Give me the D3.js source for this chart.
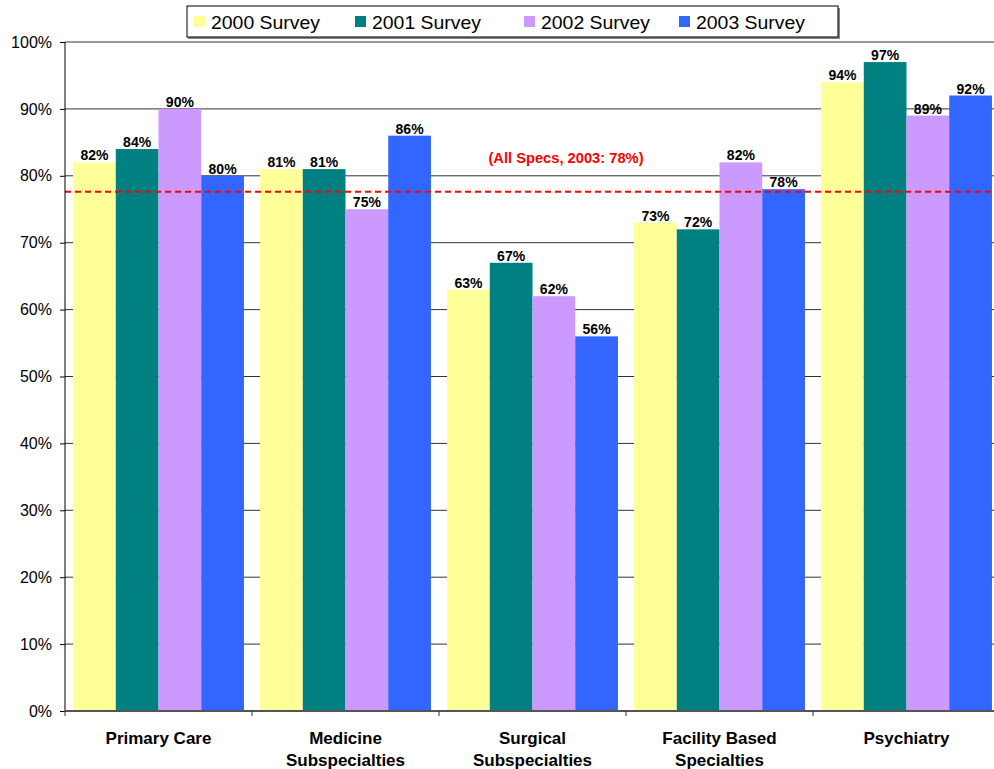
<!DOCTYPE html>
<html lang="en">
<head>
<meta charset="utf-8">
<title>survey chart</title>
<script src="https://cdn.jsdelivr.net/npm/d3@7"></script>
<style>
  body { margin: 0; background: #fff; }
  svg { font-family: "Liberation Sans", Arial, sans-serif; display: block; }
</style>
</head>
<body>
<script>
var categories = [["Primary Care"], ["Medicine", "Subspecialties"], ["Surgical", "Subspecialties"], ["Facility Based", "Specialties"], ["Psychiatry"]];
var series = ["2000 Survey", "2001 Survey", "2002 Survey", "2003 Survey"];
var colors = ["#FFFF99", "#008080", "#CC99FF", "#3366FF"];
var values2000 = [82, 81, 63, 73, 94];
var values2001 = [84, 81, 67, 72, 97];
var values2002 = [90, 75, 62, 82, 89];
var values2003 = [80, 86, 56, 78, 92];
var yTicks = [0, 10, 20, 30, 40, 50, 60, 70, 80, 90, 100];
var allSpecs = 77.6;
var allSpecsLabel = "(All Specs, 2003: 78%)";

var w = 994, h = 769;
var margin = {top: 42, left: 65, right: -6, bottom: 58};
var svg = d3.select("body").append("svg").attr("width", w).attr("height", h);

var plotW = w - margin.left - margin.right;
var plotH = h - margin.top - margin.bottom;
var g = svg.append("g").attr("transform", "translate(" + margin.left + "," + margin.top + ")");

var yscale = d3.scaleLinear().domain([0, 100]).range([plotH, 0]);
var xscale = d3.scaleBand().domain(d3.range(categories.length)).range([0, plotW]).paddingInner(0.086).paddingOuter(0.043);
var xsub = d3.scaleBand().domain(d3.range(series.length)).range([0, xscale.bandwidth()]);

var data = [values2000, values2001, values2002, values2003];

// gridlines
g.selectAll("line.grid").data(yTicks.slice(1)).enter().append("line")
  .attr("x1", 0).attr("x2", plotW)
  .attr("y1", function(d) { return yscale(d); }).attr("y2", function(d) { return yscale(d); })
  .attr("stroke", "#333").attr("stroke-width", 1);

// bars
series.forEach(function(s, si) {
  g.selectAll("rect.s" + si).data(data[si]).enter().append("rect")
    .attr("x", function(d, i) { return xscale(i) + xsub(si); })
    .attr("y", function(d) { return yscale(d); })
    .attr("width", xsub.bandwidth())
    .attr("height", function(d) { return plotH - yscale(d); })
    .attr("fill", colors[si]);
  g.selectAll("text.l" + si).data(data[si]).enter().append("text")
    .attr("x", function(d, i) { return xscale(i) + xsub(si) + xsub.bandwidth() / 2; })
    .attr("y", function(d) { return yscale(d) - 2; })
    .attr("text-anchor", "middle")
    .attr("font-size", "14px").attr("font-weight", "bold").attr("fill", "#000")
    .text(function(d) { return d + "%"; });
});

// reference line
g.append("line")
  .attr("x1", 0).attr("x2", plotW)
  .attr("y1", yscale(allSpecs)).attr("y2", yscale(allSpecs))
  .attr("stroke", "#FF0000").attr("stroke-width", 2).attr("stroke-dasharray", "6,4");
g.append("text")
  .attr("x", 501).attr("y", yscale(allSpecs) - 29)
  .attr("text-anchor", "middle").attr("font-size", "14.7px").attr("font-weight", "bold").attr("fill", "#FF0000")
  .text(allSpecsLabel);

// y axis
var yaxis = d3.axisLeft(yscale).tickValues(yTicks).tickSize(5).tickFormat(function(d) { return d + "%"; });
var ya = g.append("g").call(yaxis);
ya.select(".domain").attr("stroke", "#000").attr("d", "M0," + plotH + "V0");
ya.selectAll(".tick line").attr("stroke", "#000");
ya.selectAll(".tick text").attr("font-size", "16px").attr("fill", "#000").attr("x", -13).attr("font-family", "Liberation Sans, Arial, sans-serif");

// x axis
g.append("line").attr("x1", 0).attr("x2", plotW).attr("y1", plotH).attr("y2", plotH).attr("stroke", "#555").attr("stroke-width", 2);
g.selectAll("line.xt").data(d3.range(categories.length + 1)).enter().append("line")
  .attr("x1", function(d) { return d * plotW / categories.length; })
  .attr("x2", function(d) { return d * plotW / categories.length; })
  .attr("y1", plotH).attr("y2", plotH + 5).attr("stroke", "#333");

var xl = g.selectAll("text.cat").data(categories).enter().append("text")
  .attr("text-anchor", "middle").attr("font-size", "17px").attr("font-weight", "bold").attr("fill", "#000")
  .attr("transform", function(d, i) { return "translate(" + (xscale(i) + xscale.bandwidth() / 2) + "," + (plotH + 33) + ")"; });
xl.selectAll("tspan").data(function(d) { return d; }).enter().append("tspan")
  .attr("x", 0).attr("dy", function(d, i) { return i === 0 ? 0 : 22; })
  .text(function(d) { return d; });

// legend
var lg = svg.append("g").attr("transform", "translate(187,6)");
lg.append("rect").attr("x", 1).attr("y", 2).attr("width", 652).attr("height", 31).attr("fill", "#888");
lg.append("rect").attr("x", 0).attr("y", 0).attr("width", 651).attr("height", 31).attr("fill", "#fff").attr("stroke", "#000");
var legX = [7, 168, 337, 492];
series.forEach(function(s, si) {
  lg.append("rect").attr("x", legX[si]).attr("y", 10).attr("width", 11).attr("height", 11).attr("fill", colors[si]);
  lg.append("text").attr("x", legX[si] + 17).attr("y", 23).attr("font-size", "19px").attr("fill", "#000")
    .attr("textLength", 109).attr("lengthAdjust", "spacingAndGlyphs").text(s);
});
</script>
</body>
</html>
